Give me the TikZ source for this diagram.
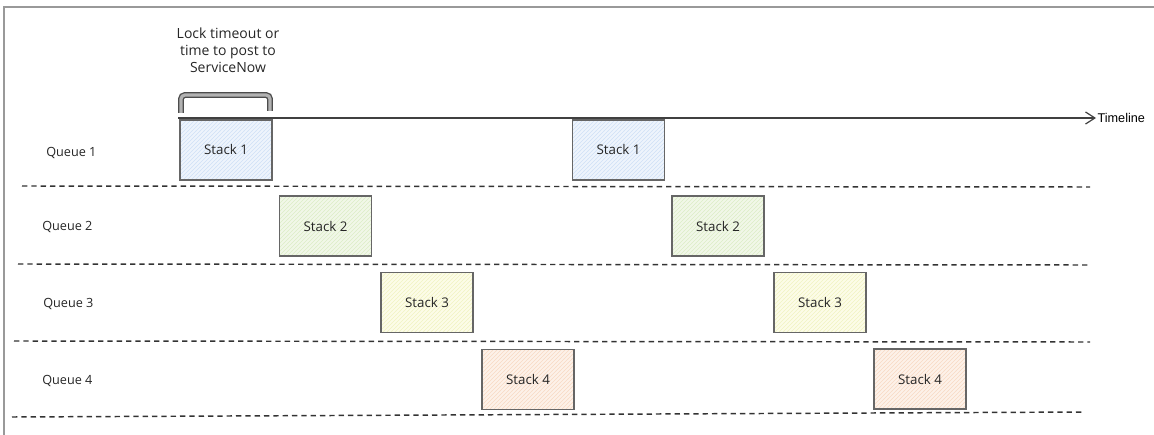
\documentclass[tikz,border=0pt]{standalone}
\usepackage{fontspec}
\setmainfont{Open Sans}
\newfontfamily\arialfont{Liberation Sans}
\usetikzlibrary{arrows.meta,patterns}
\definecolor{edge}{HTML}{666666}
\definecolor{fblue}{HTML}{EEF4FC}
\definecolor{hblue}{HTML}{CFE0F6}
\definecolor{fgreen}{HTML}{F1F7E8}
\definecolor{hgreen}{HTML}{DCEDC6}
\definecolor{fyellow}{HTML}{FCFCE8}
\definecolor{hyellow}{HTML}{F1F3C2}
\definecolor{forange}{HTML}{FDF1E9}
\definecolor{horange}{HTML}{F8D9C4}
\tikzset{
  px/.style={x=0.75pt,y=-0.75pt},
  stackbox/.style={draw=edge, line width=1.1pt, minimum width=69pt, minimum height=45pt,
    inner sep=0pt, font=\fontsize{10}{12}\selectfont, text=black!85},
  sblue/.style={stackbox, pattern=north east lines, pattern color=hblue, preaction={fill=fblue}},
  sgreen/.style={stackbox, pattern=north east lines, pattern color=hgreen, preaction={fill=fgreen}},
  syellow/.style={stackbox, pattern=north east lines, pattern color=hyellow, preaction={fill=fyellow}},
  sorange/.style={stackbox, pattern=north east lines, pattern color=horange, preaction={fill=forange}},
  qlabel/.style={font=\fontsize{9.5}{11}\selectfont, text=black!85, inner sep=0pt},
  sep/.style={draw=black!80, line width=1.1pt, dash pattern=on 4pt off 3pt},
}
\begin{document}
\begin{tikzpicture}[px]
\useasboundingbox (0,0) rectangle (1154,435);
% frame
\draw[gray!80, line width=0.8pt] (4,435) -- (4,7) -- (1154,7);
% annotation
\node[align=center, font=\fontsize{10.5}{12.6}\selectfont, text=black!85, inner sep=0pt] (note) at (228,50)
  {Lock timeout or\\time to post to\\ServiceNow};
% bracket
\coordinate (bl) at (181,113);
\coordinate (br) at (270,111);
\draw[draw=black!70, line width=1pt, double=gray!60, double distance=2.4pt, rounded corners=3pt]
  (bl) -- (181,95) -- (270,95) -- (br);
% timeline
\coordinate (tstart) at (178,118);
\node[anchor=west, font=\arialfont\fontsize{9.5}{11}\selectfont, inner sep=1pt] (tl) at (1096,118) {Timeline};
\draw[draw=black!75, line width=0.9pt, -{Straight Barb[length=7pt,width=9pt]}] (tstart) -- (tl.west);
% queue labels
\node[qlabel, anchor=west] (q1) at (46,153) {Queue 1};
\node[qlabel, anchor=west] (q2) at (42,227) {Queue 2};
\node[qlabel, anchor=west] (q3) at (43,304) {Queue 3};
\node[qlabel, anchor=west] (q4) at (42,381) {Queue 4};
% separators
\draw[sep] (22,186) -- (1090,187);
\draw[sep] (18,264) -- (1090,265);
\draw[sep] (14,341) -- (1090,342);
\draw[sep] (12,417) -- (1085,412);
% stacks
\node[sblue] (s1a) at (226,150) {Stack 1};
\node[sblue] (s1b) at (618.5,150) {Stack 1};
\node[sgreen] (s2a) at (325.5,226) {Stack 2};
\node[sgreen] (s2b) at (718,226) {Stack 2};
\node[syellow] (s3a) at (427,302.5) {Stack 3};
\node[syellow] (s3b) at (820,302.5) {Stack 3};
\node[sorange] (s4a) at (528,379.5) {Stack 4};
\node[sorange] (s4b) at (920,379) {Stack 4};
\end{tikzpicture}
\end{document}
